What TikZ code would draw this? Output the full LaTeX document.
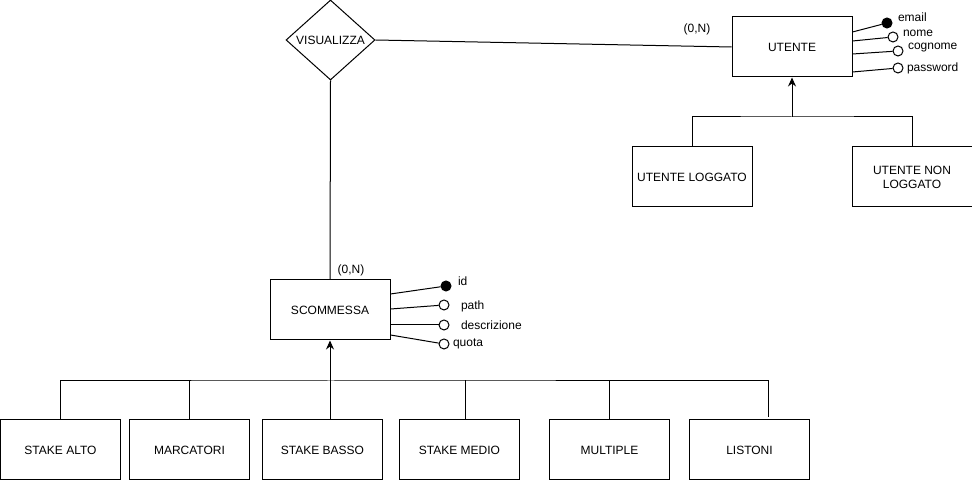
\documentclass[tikz,border=0pt]{standalone}
\usepackage{fontspec}
\setmainfont{Liberation Sans}
\usetikzlibrary{shapes.geometric, arrows.meta, positioning}
\tikzset{
    entity/.style={rectangle, draw, line width=1pt, minimum width=120pt, minimum height=60pt, align=center},
    relationship/.style={diamond, draw, line width=1pt, minimum width=89pt, minimum height=80pt, inner sep=0pt, align=center},
    attribute/.style={circle, draw, line width=1pt, fill=white, minimum size=10pt, inner sep=0pt},
    key attribute/.style={attribute, fill=black},
    link/.style={line width=1pt},
    isa arrow/.style={line width=1pt, -{Stealth[length=9pt, width=8pt]}}
}
\begin{document}
\begin{tikzpicture}[x=1pt, y=1pt, font=\fontsize{12}{14}\selectfont]
    \useasboundingbox (0,0) rectangle (972,481);

    \node[relationship] (visualizza) at (330.5,441) {VISUALIZZA};
    \node[entity] (utente) at (792,434) {UTENTE};
    \node[entity] (scommessa) at (330,171) {SCOMMESSA};

    \node (card utente) at (697,452) {(0,N)};
    \node (card scommessa) at (351,211) {(0,N)};

    \node[entity] (loggato) at (692,304) {UTENTE LOGGATO};
    \node[entity, right=99pt of loggato] (nonloggato) {UTENTE NON\\LOGGATO};

    \node[entity] (stakealto) at (60.5,31) {STAKE ALTO};
    \node[entity, right=8pt of stakealto] (marcatori) {MARCATORI};
    \node[entity, right=12pt of marcatori] (stakebasso) {STAKE BASSO};
    \node[entity, right=16pt of stakebasso] (stakemedio) {STAKE MEDIO};
    \node[entity, right=29pt of stakemedio] (multiple) {MULTIPLE};
    \node[entity, right=19pt of multiple] (listoni) {LISTONI};

    % attributi utente
    \node[key attribute, label={[label distance=2pt, yshift=5.5pt]right:email}] (email) at (887,458) {};
    \node[attribute, label={[label distance=1pt, yshift=4pt]right:nome}] (nome) at (893,444) {};
    \node[attribute, label={[label distance=1pt, yshift=3pt]right:cognome}] (cognome) at (898,430) {};
    \node[attribute, label={[label distance=0pt]right:password}] (password) at (898,413) {};

    % attributi scommessa
    \node[key attribute, label={[label distance=3pt, yshift=5pt]right:id}] (id) at (446,195) {};
    \node[attribute, label={[label distance=8pt, yshift=-1pt]right:path}] (path) at (444,176) {};
    \node[attribute, label={[label distance=8pt]right:descrizione}] (descrizione) at (444,156) {};
    \node[attribute, label={[label distance=0pt]right:quota}] (quota) at (444,137) {};

    \draw[link] (visualizza.east) -- (utente.west);
    \draw[link] (visualizza.south) -- (scommessa.north);

    \draw[link] ([yshift=15pt]utente.east) -- (email);
    \draw[link] ([yshift=6pt]utente.east) -- (nome);
    \draw[link] ([yshift=-7pt]utente.east) -- (cognome);
    \draw[link] ([yshift=-25pt]utente.east) -- (password);

    \draw[link] ([yshift=16pt]scommessa.east) -- (id);
    \draw[link] ([yshift=1pt]scommessa.east) -- (path);
    \draw[link] ([yshift=-15pt]scommessa.east) -- (descrizione);
    \draw[link] ([yshift=-25pt]scommessa.east) -- (quota);

    % generalizzazione utente
    \coordinate (ubus) at (792,364);
    \draw[isa arrow] (ubus) -- (utente.south);
    \draw[link] (loggato.north) |- (ubus) -| (nonloggato.north);

    % generalizzazione scommessa
    \coordinate (sbus) at (330,100);
    \draw[isa arrow] (sbus) -- (scommessa.south);
    \draw[link] (stakealto.north) |- (sbus) -| ([xshift=19pt, yshift=2pt]listoni.north);
    \draw[link] (marcatori.north) -- (marcatori.north |- sbus);
    \draw[link] (sbus) -- (sbus |- stakebasso.north);
    \draw[link] ([xshift=6pt]stakemedio.north) -- ++(0,39pt);
    \draw[link] (multiple.north) -- (multiple.north |- sbus);
\end{tikzpicture}
\end{document}
